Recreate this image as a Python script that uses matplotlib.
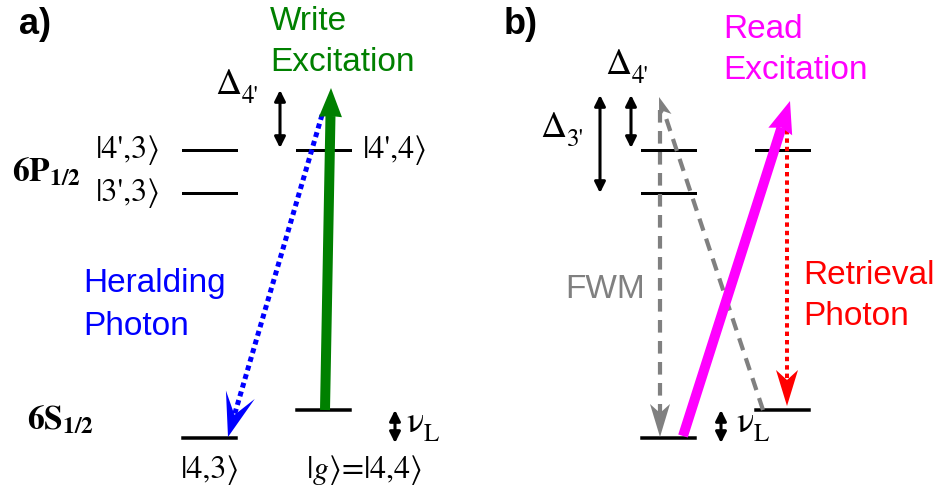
#!/usr/bin/env python3
import matplotlib

matplotlib.use("Agg")
import numpy as np
import matplotlib.pyplot as plt
from matplotlib.patches import Polygon

plt.rcParams["font.family"] = ["Liberation Sans", "DejaVu Sans"]
plt.rcParams["mathtext.fontset"] = "stix"

# level layout (pixel units, y grows downward)
level_w = 53
exc_y = [150, 193]          # |4'>, |3'>
gnd_y = [438, 410]          # |4,3>, |4,4>
col_x = [183, 297]          # left / right column, panel a
panel_dx = 459              # shift of panel b
virtual_y = 90              # detuned virtual level of the write / read pulse
nuL_x = [395, 721]

PX = 0.72  # points per pixel at dpi 100
SERIF = ["STIXGeneral", "Liberation Serif", "DejaVu Serif"]


def arrow(ax, p0, p1, color, lw, ls="-", hl=30, hw=22, notch=0, dash=None):
    p0 = np.array(p0, float)
    p1 = np.array(p1, float)
    d = (p1 - p0) / np.hypot(*(p1 - p0))
    n = np.array([-d[1], d[0]])
    back = p1 - d * hl
    mid = p1 - d * (hl - notch)
    kw = dict(color=color, lw=lw * PX, solid_capstyle="butt", dash_capstyle="butt")
    if dash is not None:
        kw["dashes"] = dash
    ax.plot([p0[0], mid[0]], [p0[1], mid[1]], ls=ls, **kw)
    ax.add_patch(Polygon([p1, back + n * hw / 2, mid, back - n * hw / 2],
                         closed=True, facecolor=color, edgecolor="none", zorder=4))


def dbl(ax, x, y0, y1):
    ax.annotate("", xy=(x, y1), xytext=(x, y0),
                arrowprops=dict(arrowstyle="<|-|>", color="black", lw=2.2,
                                mutation_scale=16, shrinkA=0, shrinkB=0))


def serif(x, y, s, size=23):
    ax.text(x, y, s, fontsize=size, family=SERIF, va="center", ha="left")


def sym(x, y, main, sub, w=27):
    ax.text(x, y, main, fontsize=26, family=SERIF, va="center", ha="left")
    ax.text(x + w, y + 12, sub, fontsize=18, family=SERIF, va="center", ha="left")


fig = plt.figure(figsize=(9.44, 5.0), dpi=100)
ax = fig.add_axes([0, 0, 1, 1])
ax.set_xlim(0, 944)
ax.set_ylim(500, 0)
ax.axis("off")

# energy levels
for dx in (0, panel_dx):
    lx, rx = col_x[0] + dx, col_x[1] + dx
    for y in exc_y:
        ax.plot([lx, lx + level_w], [y, y], color="black", lw=3 * PX)
    ax.plot([rx, rx + level_w], [exc_y[0], exc_y[0]], color="black", lw=3 * PX)
    ax.plot([lx, lx + level_w], [gnd_y[0], gnd_y[0]], color="black", lw=3.5 * PX)
    ax.plot([rx, rx + level_w], [gnd_y[1], gnd_y[1]], color="black", lw=3.5 * PX)

# ---- panel a ----
rxa = col_x[1]
arrow(ax, (rxa + 28, gnd_y[1]), (rxa + 34, virtual_y - 2), "#008000", 10,
      hl=29, hw=23, notch=1)
arrow(ax, (rxa + 25, virtual_y + 25), (col_x[0] + 45, gnd_y[0] - 1), "#0000ff", 5,
      dash=(1.0, 0.8), hl=44, hw=30, notch=21)
dbl(ax, 280, virtual_y, exc_y[0] - 2)
dbl(ax, nuL_x[0], gnd_y[1], gnd_y[0] + 5)

ax.text(19, 25, "a)", fontsize=26, fontweight="bold", va="center", ha="left")
ax.text(270, 42, "Write\nExcitation", color="#008000", fontsize=24,
        va="center", ha="left", linespacing=1.38)
ax.text(83, 305, "Heralding\nPhoton", color="#0000ff", fontsize=24,
        va="center", ha="left", linespacing=1.5)
ax.text(12, 172, r"$\mathbf{6P_{1/2}}$", fontsize=24, va="center", ha="left")
ax.text(27, 420, r"$\mathbf{6S_{1/2}}$", fontsize=24, va="center", ha="left")
serif(96, exc_y[0], "|4',3\u27e9")
serif(96, exc_y[1], "|3',3\u27e9")
serif(363, exc_y[0], "|4',4\u27e9")
serif(181, 470, "|4,3\u27e9")
serif(306, 470, "|$g$\u27e9=|4,4\u27e9")
sym(215, 85, "\u0394", "4'")
sym(406, 423, "\u03bd", "L", w=18)

# ---- panel b ----
lxb, rxb = col_x[0] + panel_dx, col_x[1] + panel_dx
arrow(ax, (rxb + 7, gnd_y[1]), (lxb + 17, virtual_y + 7), "#808080", 4.2,
      dash=(3.0, 2.0), hl=20, hw=13, notch=5)
arrow(ax, (lxb + 18, virtual_y + 20), (lxb + 18, gnd_y[0] - 1), "#808080", 4.2,
      dash=(3.0, 2.0), hl=33, hw=20, notch=9)
arrow(ax, (lxb + 41, gnd_y[0] - 2), (rxb + 34, virtual_y + 11), "#ff00ff", 10,
      hl=32, hw=25, notch=4)
arrow(ax, (rxb + 31, exc_y[0] - 20), (rxb + 31, gnd_y[1] - 4), "#ff0000", 4,
      dash=(1.1, 1.0), hl=36, hw=22, notch=10)
dbl(ax, 600, virtual_y + 5, exc_y[1])
dbl(ax, 631, virtual_y + 5, exc_y[0] - 2)
dbl(ax, nuL_x[1], gnd_y[1], gnd_y[0] + 5)

ax.text(504, 25, "b)", fontsize=26, fontweight="bold", va="center", ha="left")
ax.text(723, 50, "Read\nExcitation", color="#ff00ff", fontsize=24,
        va="center", ha="left", linespacing=1.38)
ax.text(803, 296, "Retrieval\nPhoton", color="#ff0000", fontsize=24,
        va="center", ha="left", linespacing=1.38)
ax.text(565, 290, "FWM", color="#808080", fontsize=24, va="center", ha="left")
sym(540, 128, "\u0394", "3'")
sym(605, 65, "\u0394", "4'")
sym(736, 423, "\u03bd", "L", w=18)

fig.savefig("out.png", dpi=100)
